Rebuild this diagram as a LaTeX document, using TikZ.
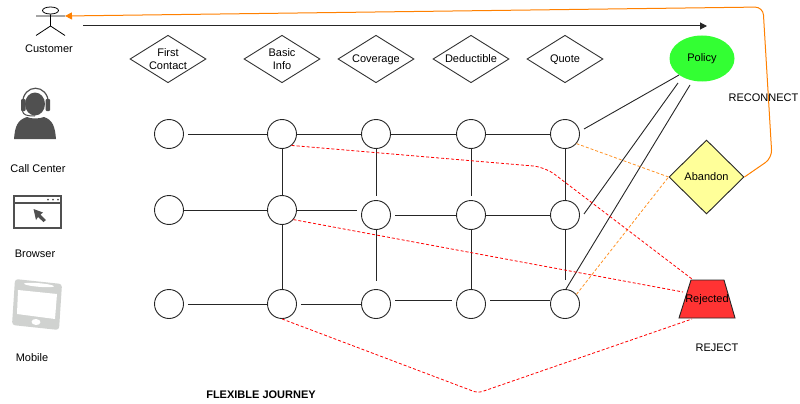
\documentclass[tikz,border=0pt]{standalone}
\usepackage{fontspec}
\setmainfont{Liberation Sans}
\usetikzlibrary{shapes.geometric,arrows.meta}
\definecolor{orangeline}{HTML}{FF8000}
\definecolor{redline}{HTML}{FF0000}
\definecolor{icondark}{HTML}{505050}
\definecolor{icongray}{HTML}{D0D2D0}
\definecolor{policygreen}{HTML}{33FF33}
\definecolor{abandonyellow}{HTML}{FFFF99}
\definecolor{rejectred}{HTML}{FF3333}
\tikzset{
  every node/.style={font=\fontsize{11}{13}\selectfont},
  stage/.style={diamond,draw=black!80,line width=.9pt,aspect=1.6,minimum width=76pt,minimum height=47.5pt,inner sep=0pt,align=center,fill=white,text depth=0pt},
  dot/.style={circle,draw=black!85,line width=.9pt,minimum size=29pt,inner sep=0pt,fill=white},
  link/.style={draw=black!85,line width=.9pt},
  reddash/.style={draw=redline,line width=.8pt,dash pattern=on 3pt off 2pt},
  orangedash/.style={draw=orangeline!85,line width=.8pt,dash pattern=on 3pt off 2pt},
  label/.style={inner sep=0pt},
}
\begin{document}
\begin{tikzpicture}[x=1pt,y=-1pt]
\useasboundingbox (0,0) rectangle (800,404);
% actor
\node[draw=black,ellipse,line width=.8pt,minimum width=16pt,minimum height=7pt,inner sep=0pt] (head) at (50.5,10.5) {};
\coordinate (armL) at (36,16); \coordinate (armR) at (65,16);
\coordinate (hip) at (50.5,26); \coordinate (legL) at (36,35.5); \coordinate (legR) at (65,35.5);
\draw[line width=.8pt] (head.south) -- (hip) (armL) -- (armR) (legL) -- (hip) -- (legR);
\node[label] (customer) at (49,48.5) {Customer};
% call center icon
\fill[icondark] (14,139) .. controls (15,127) and (17,120) .. (27,117) .. controls (31,119) and (39,119) .. (44,117) .. controls (53,120) and (55,127) .. (56,139) -- cycle;
\fill[icondark] (35,104) ellipse (10pt and 11.5pt);
\draw[icondark,line width=1.2pt] (22.5,104) .. controls (22.5,83) and (48.5,83) .. (48.5,104);
\fill[icondark,rounded corners=1pt] (21,99) rectangle (25.5,111);
\fill[icondark,rounded corners=1pt] (45.5,99) rectangle (50,111);
\draw[icondark,line width=1pt] (22.5,111) .. controls (23,115) and (27,116) .. (35,116);
\node[label] (callcenter) at (38,168.5) {Call Center};
% browser icon
\draw[icondark,line width=1.1pt] (14,196) rectangle (61,228);
\draw[icondark,line width=1.1pt] (14,203) -- (61,203);
\fill[icondark] (48,199.5) circle (1pt) (53,199.5) circle (1pt) (58,199.5) circle (1pt);
\fill[icondark] (33.5,209) -- (43,212.5) -- (40.5,214.5) -- (46,220) -- (43.5,222) -- (38,217) -- (36,220) -- cycle;
\node[label] (browser) at (35,253.5) {Browser};
% mobile icon
\fill[icongray,rounded corners=3pt] (15,279) -- (62,284) -- (59,330) -- (12,325) -- cycle;
\fill[white] (18,290) -- (57,294) -- (55,319) -- (17,314) -- cycle;
\fill[white,rotate around={-5:(39,285)}] (39,285) ellipse (15pt and 1.8pt);
\fill[white,rotate around={-5:(36,322)}] (36,322) ellipse (4.5pt and 3pt);
\node[label] (mobile) at (32,357.5) {Mobile};
% stages
\node[stage] (s0) at (168,59) {First\\Contact};
\node[stage] (s1) at (282,59) {Basic\\Info};
\node[stage] (s2) at (376,59) {Coverage};
\node[stage] (s3) at (471,59) {Deductible};
\node[stage] (s4) at (565,59) {Quote};
% long arrow
\coordinate (arrowA) at (83,26); \coordinate (arrowB) at (707,26);
\draw[black!85,line width=1pt,-{Triangle[length=7pt,width=7pt]}] (arrowA) -- (arrowB);
% grid nodes
\node[dot] (a0) at (169,134) {};
\node[dot] (a1) at (282,134) {};
\node[dot] (a2) at (376,134) {};
\node[dot] (a3) at (471,134) {};
\node[dot] (a4) at (565,134) {};
\node[dot] (b0) at (169,210) {};
\node[dot] (b1) at (282,210) {};
\node[dot] (b2) at (376,215) {};
\node[dot] (b3) at (471,215) {};
\node[dot] (b4) at (565,215) {};
\node[dot] (c0) at (169,304) {};
\node[dot] (c1) at (282,304) {};
\node[dot] (c2) at (376,304) {};
\node[dot] (c3) at (471,304) {};
\node[dot] (c4) at (565,304) {};
% horizontal links
\draw[link,shorten <=4pt] (a0.east) -- (a1.west);
\draw[link] (a1) -- (a2);
\draw[link] (a2) -- (a3);
\draw[link] (a3) -- (a4);
\draw[link] (b0) -- (b1);
\coordinate (b1end) at (357,210);
\draw[link] (b1.east) -- (b1end);
\draw[link,shorten <=4pt] (b2.east) -- (b3.west);
\draw[link] (b3) -- (b4);
\draw[link,shorten <=4pt] (c0.east) -- (c1.west);
\draw[link,shorten <=4pt] (c1.east) -- (c2.west);
\coordinate (c23s) at (395,300); \coordinate (c23e) at (452,300);
\draw[link] (c23s) -- (c23e);
\coordinate (c34s) at (490,300); \coordinate (c34e) at (550,300);
\draw[link] (c34s) -- (c34e);
% vertical links
\draw[link] (a1) -- (b1);
\draw[link] (b1) -- (c1);
\draw[link,shorten >=4pt] (a2.south) -- (b2.north);
\coordinate (b2down) at (376,281);
\draw[link] (b2.south) -- (b2down);
\draw[link,shorten >=4pt] (a3.south) -- (b3.north);
\draw[link] (b3) -- (c3);
\draw[link] (a4) -- (b4);
\coordinate (b4down) at (565,280);
\draw[link] (b4.south) -- (b4down);
% end states
\node[ellipse,fill=policygreen,minimum width=65pt,minimum height=46pt,inner sep=0pt] (policy) at (702,58.5) {Policy};
\node[diamond,draw=black!85,line width=.9pt,fill=abandonyellow,minimum width=75pt,minimum height=74pt,inner sep=0pt] (abandon) at (706.5,177) {Abandon};
\coordinate (tl) at (691,280); \coordinate (tr) at (724,280); \coordinate (br) at (735,318); \coordinate (bl) at (679,318);
\draw[black!85,line width=.9pt,fill=rejectred] (tl) -- (tr) -- (br) -- (bl) -- cycle;
\node[label] (rejected) at (707,299.5) {Rejected};
% links to policy
\coordinate (p1a) at (584,129); \coordinate (p1b) at (679,75);
\coordinate (p2a) at (584,214); \coordinate (p2b) at (678,83);
\coordinate (p3a) at (566,289); \coordinate (p3b) at (690,85);
\draw[link] (p1a) -- (p1b);
\draw[link] (p2a) -- (p2b);
\draw[link] (p3a) -- (p3b);
% abandon
\draw[orangedash] (a4.-40) -- (abandon.west);
\draw[orangedash] (c4.40) -- (abandon.west);
\coordinate (o1) at (772,158); \coordinate (o2) at (763,7);
\draw[orangeline,line width=1pt,rounded corners=8pt,-{Triangle[length=7pt,width=7pt]}] (abandon.east) -- (o1) -- (o2) -- (armR);
% rejected
\coordinate (r1) at (545,167); \coordinate (rtop) at (692,279);
\draw[reddash,rounded corners=12pt] (a1.-50) -- (r1) -- (rtop);
\coordinate (rmid) at (683,292);
\draw[reddash] (b1.-40) -- (rmid);
\coordinate (r2) at (478,393); \coordinate (rbot) at (692,319);
\draw[reddash,rounded corners=4pt] (c1.south) -- (r2) -- (rbot);
% labels
\node[label] (reconnect) at (763.5,97.5) {RECONNECT};
\node[label] (reject) at (717,347.5) {REJECT};
\node[label,font=\fontsize{11}{13}\selectfont\bfseries] (journey) at (261,394.5) {FLEXIBLE JOURNEY};
\end{tikzpicture}
\end{document}
